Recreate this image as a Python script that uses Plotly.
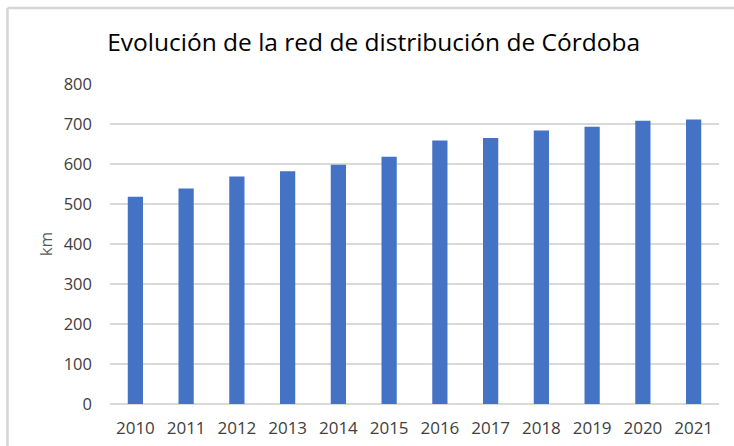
import plotly.graph_objects as go

years = ["2010", "2011", "2012", "2013", "2014", "2015", "2016", "2017", "2018", "2019", "2020", "2021"]
km = [518, 539, 569, 582, 598, 618, 659, 665, 684, 693, 708, 711]
y_ticks = [0, 100, 200, 300, 400, 500, 600, 700, 800]

FONT = "Open Sans, Noto Sans, sans-serif"

fig = go.Figure()
fig.add_trace(go.Bar(x=years, y=km, marker=dict(color="#4472C4", line=dict(width=0)), showlegend=False))

fig.update_layout(
    width=734, height=446,
    margin=dict(l=110, r=15, t=84, b=42),
    paper_bgcolor="white", plot_bgcolor="white",
    bargap=0.7,
    title=dict(text="Evolución de la red de distribución de Córdoba",
               x=0.509, xanchor="center", y=0.905, yanchor="middle",
               font=dict(family=FONT, size=24.5, color="#000000")),
    font=dict(family=FONT, size=17, color="#595959"),
    xaxis=dict(showgrid=False, showline=False, ticks="", ticklabelstandoff=12, automargin=False,
               tickfont=dict(size=17, color="#404040")),
    yaxis=dict(range=[0, 800], tickvals=y_ticks, showgrid=True, gridcolor="#d9d9d9", gridwidth=1.5,
               zeroline=True, zerolinecolor="#d9d9d9", zerolinewidth=1.5, automargin=False,
               ticks="", ticklabelstandoff=17, tickfont=dict(size=16.5, color="#404040"),
               title=dict(text="km", font=dict(size=17, color="#595959"), standoff=6)),
    shapes=[
        dict(type="line", xref="paper", yref="paper", x0=(7.5-110)/609, x1=(734-110)/609 + 0.02,
             y0=(446-42-8)/320, y1=(446-42-8)/320, layer="above",
             line=dict(color="#d6d6d6", width=2.5)),
        dict(type="line", xref="paper", yref="paper", x0=(7.5-110)/609, x1=(7.5-110)/609,
             y0=-42/320 - 0.02, y1=(446-42-8)/320, layer="above",
             line=dict(color="#d6d6d6", width=2.5)),
    ],
)

fig.write_html("out.html", config={"displayModeBar": False},
               post_script="document.body.style.margin='0';document.body.style.padding='0';")
